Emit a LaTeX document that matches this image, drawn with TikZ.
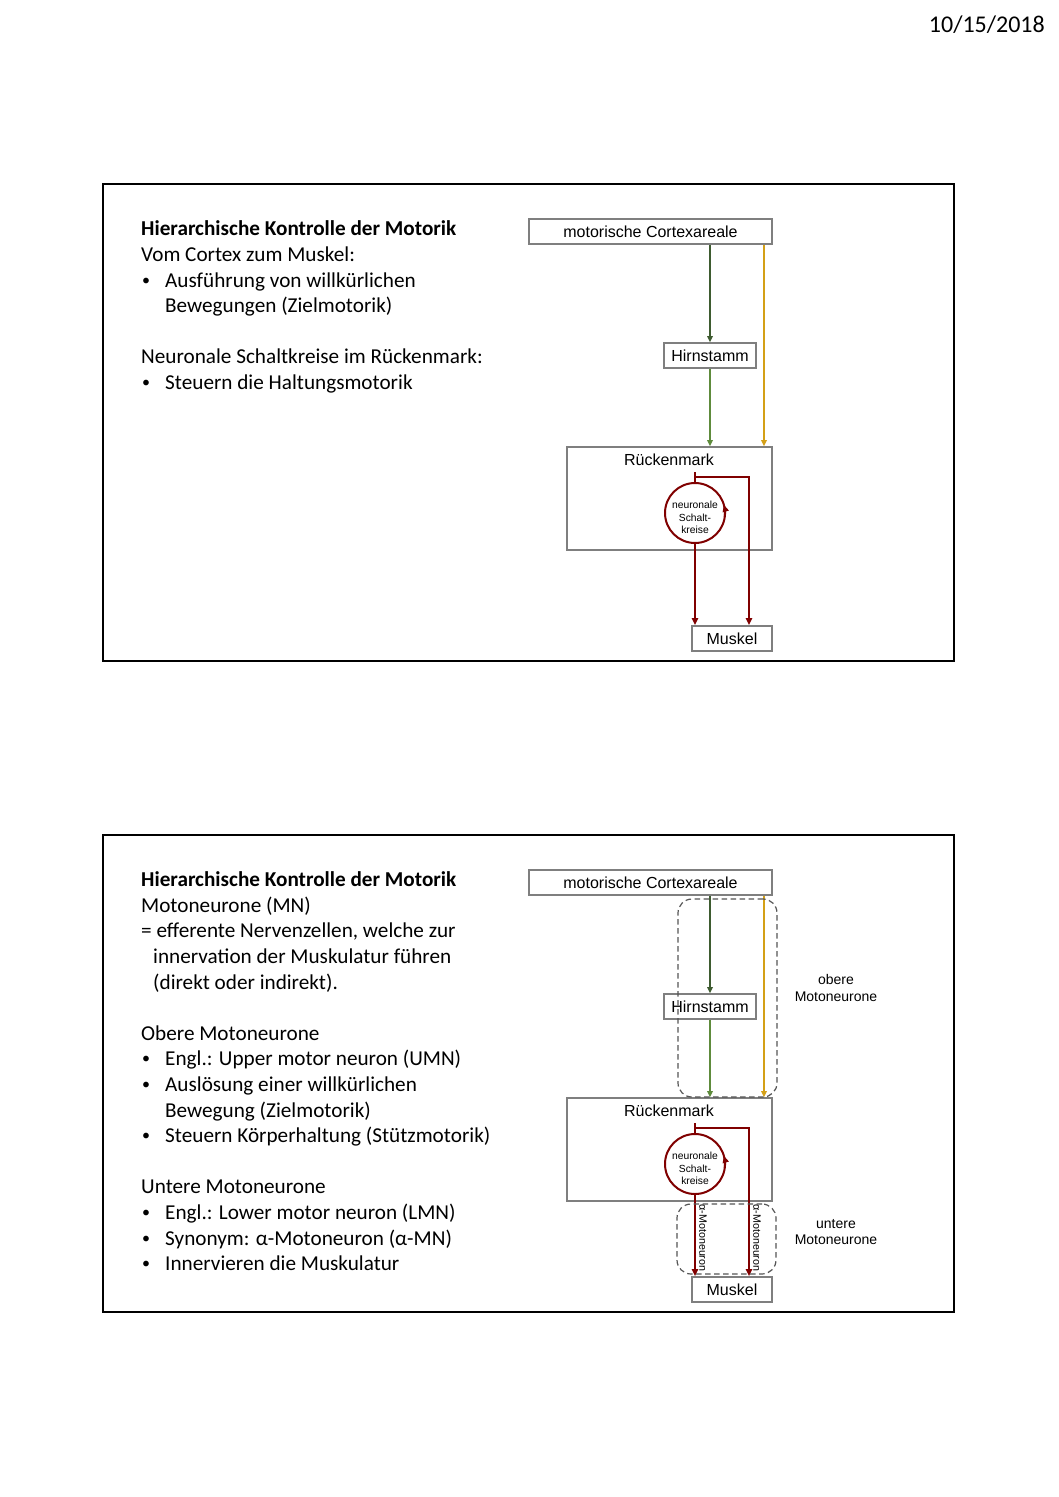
\documentclass[tikz,border=0pt]{standalone}
\usepackage{fontspec}
\setmainfont{Carlito}
\newfontfamily\arial{Liberation Sans}
\usetikzlibrary{arrows.meta}
\definecolor{boxgray}{HTML}{7F7F7F}
\definecolor{dkgreen}{HTML}{3E5B30}
\definecolor{ltgreen}{HTML}{5E8B3C}
\definecolor{goldline}{HTML}{D4A017}
\definecolor{dred}{HTML}{800000}
\definecolor{dashgray}{HTML}{555555}
\newcommand{\mybul}{\raisebox{1.2pt}{\fontsize{16}{16}\selectfont •}}
\begin{document}
\begin{tikzpicture}[x=1pt,y=-1pt,
  frame/.style={draw=black,line width=1.5pt},
  txt/.style={anchor=base west,inner sep=0,font=\fontsize{21.2}{25.6}\selectfont},
  btxt/.style={anchor=base west,inner sep=0,font=\fontsize{21.2}{25.6}\selectfont\bfseries},
  bul/.style={anchor=base west,inner sep=0,font=\fontsize{21.2}{25.6}\selectfont},
  box/.style={draw=boxgray,line width=1.6pt,inner sep=0,font=\arial\fontsize{16}{19}\selectfont,fill=white},
  lbl/.style={inner sep=0,font=\arial\fontsize{16}{19}\selectfont},
  arr/.style={line width=1.8pt},
  redarr/.style={draw=dred,line width=2pt,-{Triangle[length=7pt,width=6pt,fill=dred]}},
  circbox/.style={circle,draw=dred,line width=2pt,minimum size=60pt,inner sep=0},
  circtxt/.style={inner sep=0,align=center,font=\arial\fontsize{10.3}{12.5}\selectfont},
  dashbox/.style={draw=dashgray,line width=1.2pt,dash pattern=on 5.5pt off 3.5pt,rounded corners=14pt,inner sep=0},
  side/.style={inner sep=0,align=center,font=\arial\fontsize{14}{16.5}\selectfont},
  vert/.style={inner sep=0,rotate=-90,font=\arial\fontsize{10.7}{12}\selectfont}
]
\useasboundingbox (0,0) rectangle (1058,1497);
\fill[white] (0,0) rectangle (1058,1497);

% date
\node[anchor=base east,inner sep=0,font=\fontsize{24}{28}\selectfont] (date) at (1045,32) {10/15/2018};

% frames
\draw[frame] (103,184) rectangle (954,661);
\draw[frame] (103,835) rectangle (954,1312);

% slide 1 text
\node[btxt] (a1) at (141,235) {Hierarchische Kontrolle der Motorik};
\node[txt] (a2) at (141,261) {Vom Cortex zum Muskel:};
\node[bul] (a3b) at (142,287) {\mybul};
\node[txt] (a3) at (165,287) {Ausführung von willkürlichen};
\node[txt] (a4) at (165,312) {Bewegungen (Zielmotorik)};
\node[txt] (a5) at (141,363) {Neuronale Schaltkreise im Rückenmark:};
\node[bul] (a6b) at (142,389) {\mybul};
\node[txt] (a6) at (165,389) {Steuern die Haltungsmotorik};

% slide 2 text
\node[btxt] (b1) at (141,886) {Hierarchische Kontrolle der Motorik};
\node[txt] (b2) at (141,912) {Motoneurone (MN)};
\node[txt] (b3) at (141,937) {= efferente Nervenzellen, welche zur};
\node[txt] (b4) at (153,963) {innervation der Muskulatur führen};
\node[txt] (b5) at (153,989) {(direkt oder indirekt).};
\node[txt] (b6) at (141,1040) {Obere Motoneurone};
\node[bul] (b7b) at (142,1065) {\mybul};
\node[txt] (b7) at (165,1065) {Engl.: Upper motor neuron (UMN)};
\node[bul] (b8b) at (142,1091) {\mybul};
\node[txt] (b8) at (165,1091) {Auslösung einer willkürlichen};
\node[txt] (b9) at (165,1117) {Bewegung (Zielmotorik)};
\node[bul] (b10b) at (142,1142) {\mybul};
\node[txt] (b10) at (165,1142) {Steuern Körperhaltung (Stützmotorik)};
\node[txt] (b11) at (141,1193) {Untere Motoneurone};
\node[bul] (b12b) at (142,1219) {\mybul};
\node[txt] (b12) at (165,1219) {Engl.: Lower motor neuron (LMN)};
\node[bul] (b13b) at (142,1245) {\mybul};
\node[txt] (b13) at (165,1245) {Synonym: α-Motoneuron (α-MN)};
\node[bul] (b14b) at (142,1270) {\mybul};
\node[txt] (b14) at (165,1270) {Innervieren die Muskulatur};

% diagrams
\foreach \s/\dy in {a/0,b/651}{
\begin{scope}[shift={(0,\dy)}]
  \node[box,minimum width=243pt,minimum height=25pt] (\s cortex) at (650.5,231.5) {motorische Cortexareale};
  \node[box,minimum width=92pt,minimum height=25pt] (\s hirn) at (710,355.5) {Hirnstamm};
  \node[box,minimum width=205pt,minimum height=103pt] (\s rm) at (669.5,498.5) {};
  \node[lbl] (\s rmlab) at (669,460) {Rückenmark};
  \node[box,minimum width=80pt,minimum height=25pt] (\s musk) at (732,638.5) {Muskel};
  \node[circbox] (\s circ) at (695,513) {};
  \node[circtxt] (\s ctxt) at (695,517.5) {neuronale\\Schalt-\\kreise};
  \coordinate (\s gx) at (764,0);
  \coordinate (\s rtop) at (695,472);
  \coordinate (\s rcorn) at (749,477);
  \draw[arr,draw=dkgreen,-{Triangle[length=6pt,width=5.5pt,fill=dkgreen]}] (\s cortex.south -| \s hirn.north) -- (\s hirn.north);
  \draw[arr,draw=ltgreen,-{Triangle[length=6pt,width=5.5pt,fill=ltgreen]}] (\s hirn.south) -- (\s hirn.south |- \s rm.north);
  \draw[arr,draw=goldline,-{Triangle[length=6pt,width=5.5pt,fill=goldline]}] (\s cortex.south -| \s gx) -- (\s rm.north -| \s gx);
  \draw[draw=dred,line width=2pt] (\s rtop) -- (\s circ.north);
  \draw[redarr] (\s circ.north |- \s rcorn) -- (\s rcorn) -- (\s rcorn |- \s musk.north);
  \draw[redarr] (\s circ.south) -- (\s circ.south |- \s musk.north);
  \draw[redarr] ([shift={(8:30)}]\s circ.center) arc[start angle=8,end angle=-16,radius=30];
\end{scope}
}

% dashed groups (slide 2)
\node[dashbox,minimum width=99pt,minimum height=198pt] (upper) at (727.5,998) {};
\node[dashbox,minimum width=99pt,minimum height=70pt] (lower) at (726.5,1239) {};
\node[side] (uplab) at (836,988) {obere\\Motoneurone};
\node[side] (lowlab) at (836,1232) {untere\\Motoneurone};
\node[vert] (am1) at (703,1238) {α-Motoneuron};
\node[vert] (am2) at (757,1238) {α-Motoneuron};
\end{tikzpicture}
\end{document}
